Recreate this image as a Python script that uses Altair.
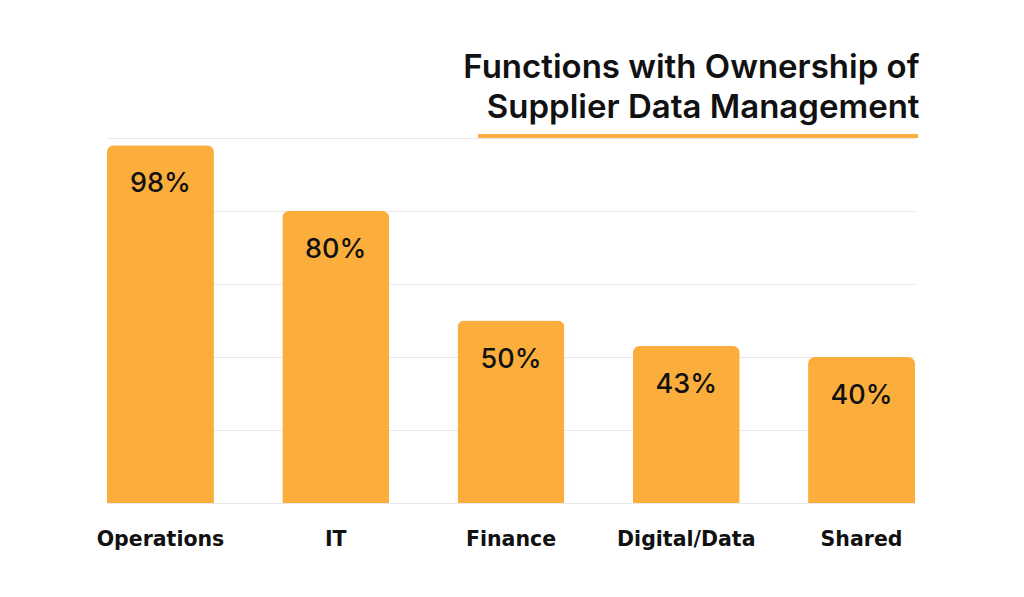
import altair as alt
import pandas as pd

categories = ["Operations", "IT", "Finance", "Digital/Data", "Shared"]
values = [98, 80, 50, 43, 40]
labels = ["98%", "80%", "50%", "43%", "40%"]

df = pd.DataFrame({"cat": categories, "val": values, "lab": labels})

ORANGE = "#FBAE3C"
FONT = "Inter"

x = alt.X("cat:N", sort=categories, title=None,
          scale=alt.Scale(paddingInner=0.39, paddingOuter=0),
          axis=alt.Axis(labelAngle=0, ticks=False, domain=False, grid=False,
                        labelFont="DejaVu Sans", labelFontSize=20.5, labelFontWeight="bold",
                        labelColor="#111111", labelPadding=26))
y = alt.Y("val:Q", title=None,
          scale=alt.Scale(domain=[0, 100], nice=False),
          axis=alt.Axis(values=[0, 20, 40, 60, 80, 100], labels=False, ticks=False,
                        domain=False, grid=True, gridColor="#e8e8e8", gridWidth=1))

bars = alt.Chart(df).mark_bar(color=ORANGE, cornerRadiusTopLeft=7,
                              cornerRadiusTopRight=7).encode(x=x, y=y)

text = alt.Chart(df).mark_text(font=FONT, fontSize=27, fontWeight=500, color="#111111",
                               baseline="middle", dy=39).encode(
    x=alt.X("cat:N", sort=categories), y="val:Q", text="lab:N")

underline = alt.Chart(df).mark_rule(color=ORANGE, strokeWidth=3).encode(
    x=alt.value(371), x2=alt.value(811), y=alt.value(-2))

chart = alt.layer(bars, text, underline).properties(
    width=808, height=365,
    title=alt.TitleParams(
        text=["Functions with Ownership of", "Supplier Data Management"],
        anchor="end", font=FONT, fontSize=33, fontWeight=600, color="#111111",
        lineHeight=40, offset=10, dx=0),
    autosize=alt.AutoSizeParams(type="none"),
    padding={"left": 99, "top": 130, "right": 10, "bottom": 80},
).configure(background="white").configure_view(stroke=None, strokeWidth=0)

chart.save("out.html", embed_options={"renderer": "svg", "actions": False})
